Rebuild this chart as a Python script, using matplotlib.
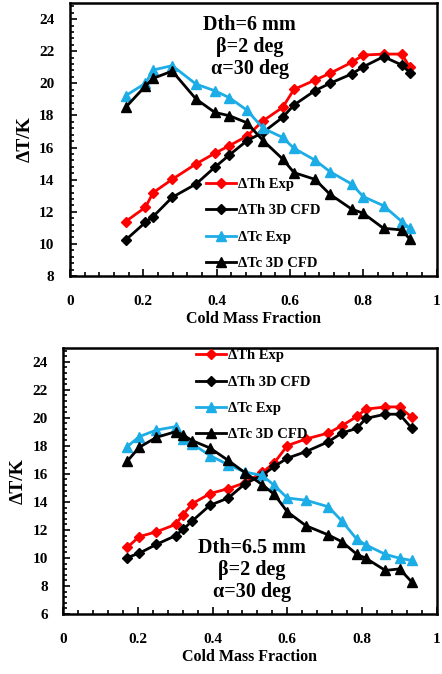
import matplotlib
matplotlib.use("Agg")
import matplotlib.pyplot as plt
from matplotlib.ticker import MultipleLocator

plt.rcParams['font.family'] = ['Liberation Serif', 'DejaVu Serif']
plt.rcParams['font.weight'] = 'bold'

# --- top panel: Dth=6 mm ---
cmf_a = [0.152, 0.206, 0.227, 0.279, 0.344, 0.395, 0.435, 0.482, 0.527, 0.580,
         0.611, 0.668, 0.709, 0.768, 0.800, 0.855, 0.905, 0.927]
th_exp_a = [11.39, 12.28, 13.19, 14.02, 14.98, 15.64, 16.12, 16.70, 17.67, 18.50,
            19.62, 20.20, 20.62, 21.30, 21.76, 21.82, 21.82, 20.99]
th_cfd_a = [10.24, 11.34, 11.70, 12.90, 13.73, 14.77, 15.54, 16.41, 16.95, 17.88,
            18.65, 19.54, 20.00, 20.58, 21.03, 21.66, 21.14, 20.66]
tc_exp_a = [19.23, 20.00, 20.83, 21.10, 19.95, 19.54, 19.10, 18.34, 17.20, 16.63,
            15.95, 15.22, 14.50, 13.73, 12.94, 12.38, 11.39, 10.97]
tc_cfd_a = [18.50, 19.83, 20.31, 20.76, 19.02, 18.19, 17.98, 17.55, 16.43, 15.29,
            14.44, 14.02, 13.09, 12.17, 11.90, 10.97, 10.87, 10.29]

# --- bottom panel: Dth=6.5 mm ---
cmf_b = [0.172, 0.204, 0.250, 0.301, 0.321, 0.346, 0.393, 0.442, 0.487, 0.533,
         0.565, 0.600, 0.650, 0.710, 0.746, 0.786, 0.810, 0.862, 0.900, 0.933]
th_exp_b = [10.76, 11.52, 11.87, 12.39, 13.10, 13.88, 14.59, 14.95, 15.37, 16.10,
            16.79, 18.02, 18.49, 18.92, 19.44, 20.10, 20.62, 20.78, 20.78, 20.03]
th_cfd_b = [10.03, 10.34, 10.97, 11.59, 12.04, 12.65, 13.76, 14.28, 15.30, 15.90,
            16.53, 17.12, 17.59, 18.30, 18.92, 19.25, 19.96, 20.26, 20.26, 19.25]
tc_exp_b = [17.95, 18.66, 19.13, 19.37, 18.49, 18.14, 17.31, 16.65, 16.13, 15.89,
            15.18, 14.28, 14.12, 13.65, 12.63, 11.33, 10.93, 10.26, 9.98, 9.82]
tc_cfd_b = [16.91, 17.90, 18.61, 19.01, 18.78, 18.37, 17.85, 16.96, 16.08, 15.23,
            14.54, 13.29, 12.30, 11.64, 11.16, 10.26, 9.98, 9.11, 9.22, 8.28]

labels = ["\u0394Th Exp", "\u0394Th 3D CFD", "\u0394Tc Exp", "\u0394Tc 3D CFD"]
x_ticks = [0, 0.2, 0.4, 0.6, 0.8, 1]
x_ticklabels = ["0", "0.2", "0.4", "0.6", "0.8", "1"]
RED = "#FF0000"
CYAN = "#1DADE6"


def draw_panel(ax, x, th_exp, th_cfd, tc_exp, tc_cfd, ymin, note, note_xy, leg_xy):
    ax.plot(x, th_exp, color=RED, marker="D", ms=5, lw=2, label=labels[0])
    ax.plot(x, th_cfd, color="black", marker="D", ms=5, lw=2, label=labels[1])
    ax.plot(x, tc_exp, color=CYAN, marker="^", ms=7, lw=2, label=labels[2])
    ax.plot(x, tc_cfd, color="black", marker="^", ms=7, lw=2, label=labels[3])

    ax.set_xlim(0, 1)
    ax.set_ylim(ymin, 25)
    ax.set_yticks(range(ymin, 25, 2))
    ax.set_xticks(x_ticks)
    ax.set_xticklabels(x_ticklabels)
    ax.xaxis.set_minor_locator(MultipleLocator(0.04))
    ax.yaxis.set_minor_locator(MultipleLocator(0.4))
    ax.tick_params(which="both", direction="in", top=False, right=False, width=1.2)
    ax.tick_params(which="major", length=5)
    ax.tick_params(which="minor", length=3)
    ax.tick_params(axis="x", pad=14, labelsize=11)
    ax.tick_params(axis="y", pad=11, labelsize=11)
    for s in ax.spines.values():
        s.set_linewidth(1.8)

    ax.set_xlabel("Cold Mass Fraction", fontsize=11.5, fontweight="bold", labelpad=2)
    ax.set_ylabel("\u0394T/K", fontsize=14, fontweight="bold", labelpad=4)

    ax.text(note_xy[0], note_xy[1], note, transform=ax.transAxes, ha="center",
            va="top", fontsize=14.5, fontweight="bold", linespacing=1.12)

    ax.legend(loc="upper left", bbox_to_anchor=leg_xy, frameon=False,
              fontsize=10.5, labelspacing=0.9, handlelength=2.1, handletextpad=0.1,
              borderpad=0, borderaxespad=0)


fig = plt.figure(figsize=(4.42, 6.74), dpi=100)
ax1 = fig.add_axes([0.158, 0.5905, 0.830, 0.405])
ax2 = fig.add_axes([0.1425, 0.089, 0.846, 0.395])

draw_panel(ax1, cmf_a, th_exp_a, th_cfd_a, tc_exp_a, tc_cfd_a, 8,
           "Dth=6 mm\n\u03b2=2 deg\n\u03b1=30 deg", (0.49, 0.955), (0.37, 0.36))
draw_panel(ax2, cmf_b, th_exp_b, th_cfd_b, tc_exp_b, tc_cfd_b, 6,
           "Dth=6.5 mm\n\u03b2=2 deg\n\u03b1=30 deg", (0.505, 0.285), (0.355, 0.995))

fig.savefig("out.png", dpi=100)
